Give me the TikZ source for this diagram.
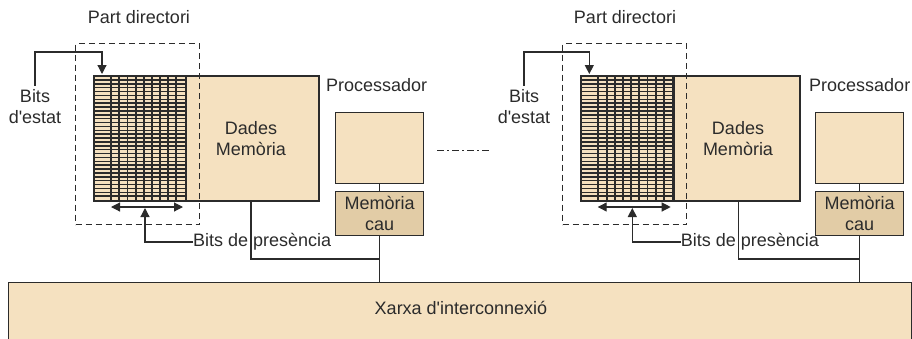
\documentclass[tikz,border=0pt]{standalone}
\usepackage{fontspec}
\setmainfont{Liberation Sans}[Ligatures=TeXOff]
\usetikzlibrary{arrows.meta}
\definecolor{tanfill}{HTML}{F5E1C0}
\definecolor{cachefill}{HTML}{E2CCA6}
\definecolor{ink}{HTML}{2B2B2B}
\tikzset{
  x=1pt, y=-1pt,
  lbl/.style={font=\fontsize{18}{21}\selectfont, text=ink, inner sep=0pt, align=center},
  box/.style={draw=ink, line width=1.3pt, fill=tanfill, inner sep=0pt, anchor=north west},
  cachebox/.style={box, fill=cachefill},
  dirbox/.style={draw=ink, line width=1.4pt, dash pattern=on 6pt off 4pt, inner sep=0pt, anchor=north west},
  conn/.style={draw=ink, line width=1.2pt},
  arr/.style={conn, -{Triangle[width=9pt,length=9pt]}},
  darr/.style={conn, {Triangle[width=9pt,length=9pt]}-{Triangle[width=9pt,length=9pt]}},
  gridh/.style={draw=ink, line width=1.5pt},
  gridv/.style={draw=ink, line width=1.8pt},
}
\begin{document}
\begin{tikzpicture}
\useasboundingbox (0,0) rectangle (912,338);
% network
\node[box, minimum width=903pt, minimum height=80pt] (net) at (8,282) {};
\node[lbl] (nettxt) at (461,308) {Xarxa d'interconnexió};

% dash-dot separator
\coordinate (sepA) at (437,150);
\coordinate (sepB) at (492,150);
\draw[conn, line width=1pt, dash pattern=on 7pt off 3pt on 2pt off 3pt] (sepA) -- (sepB);

% ---------- left module ----------
\node[box, minimum width=224.7pt, minimum height=124pt] (memL) at (93.3,76) {};
\node[box, minimum width=91.7pt, minimum height=124pt] (dirL) at (93.3,76) {};
\foreach \i in {1,...,31} \draw[gridh] (93.3,76+\i*3.875) -- (185,76+\i*3.875);
\foreach \x in {110.7,119.3,127.5,135.7,143.6,151.8,160,168.2,176.3} \draw[gridv] (\x,76) -- (\x,200);
\draw[ink, line width=1.3pt] (memL.north west) rectangle (memL.south east);
\draw[ink, line width=1.6pt] (dirL.north east) -- (dirL.south east);
\node[dirbox, minimum width=124pt, minimum height=181pt] (partL) at (75,43) {};
\node[lbl] (partLt) at (139,17) {Part directori};
\node[lbl] (datL) at (251,139) {Dades\\Memòria};
\node[lbl, anchor=west] (procLt) at (326,85) {Processador};
\node[box, minimum width=88pt, minimum height=71pt] (procL) at (335,112) {};
\node[cachebox, minimum width=88pt, minimum height=44pt] (cacheL) at (335,191) {};
\node[lbl] (cacheLt) at (cacheL.center) {Memòria\\cau};
\node[lbl] (estL) at (35,107) {Bits\\d'estat};
\coordinate (estL1) at (35,52);
\coordinate (estL2) at (102,52);
\coordinate (estL3) at (102,74);
\draw[arr] (estL.north) ++(0,-4) -- (estL1) -- (estL2) -- (estL3);
\coordinate (presLa) at (111,207);
\coordinate (presLb) at (183,207);
\draw[darr] (presLa) -- (presLb);
\node[lbl, anchor=west] (presL) at (193,242) {Bits de presència};
\coordinate (presLc) at (145,242);
\coordinate (presLd) at (145,208);
\draw[arr] (presL.west) -- (presLc) -- (presLd);
\coordinate (busL) at (251,259);
\draw[conn] (memL.south -| busL) -- (busL) -- (busL -| cacheL.south);
\draw[conn] (procL.south) -- (cacheL.north);
\draw[conn] (cacheL.south) -- (net.north -| cacheL.south);

% ---------- right module ----------
\node[box, minimum width=218.6pt, minimum height=124pt] (memR) at (580.7,76) {};
\node[box, minimum width=91.7pt, minimum height=124pt] (dirR) at (580.7,76) {};
\foreach \i in {1,...,31} \draw[gridh] (580.7,76+\i*3.875) -- (672.4,76+\i*3.875);
\foreach \x in {110.7,119.3,127.5,135.7,143.6,151.8,160,168.2,176.3} \draw[gridv] (\x+487.4,76) -- (\x+487.4,200);
\draw[ink, line width=1.3pt] (memR.north west) rectangle (memR.south east);
\draw[ink, line width=1.6pt] (dirR.north east) -- (dirR.south east);
\node[dirbox, minimum width=124pt, minimum height=181pt] (partR) at (562,43) {};
\node[lbl] (partRt) at (625,17) {Part directori};
\node[lbl] (datR) at (738,139) {Dades\\Memòria};
\node[lbl, anchor=west] (procRt) at (809,85) {Processador};
\node[box, minimum width=88pt, minimum height=71pt] (procR) at (815,112) {};
\node[cachebox, minimum width=88pt, minimum height=44pt] (cacheR) at (815,191) {};
\node[lbl] (cacheRt) at (cacheR.center) {Memòria\\cau};
\node[lbl] (estR) at (524,107) {Bits\\d'estat};
\coordinate (estR1) at (524,52);
\coordinate (estR2) at (589.3,52);
\coordinate (estR3) at (589.3,74);
\draw[arr] (estR.north) ++(0,-4) -- (estR1) -- (estR2) -- (estR3);
\coordinate (presRa) at (597.7,207);
\coordinate (presRb) at (670.7,207);
\draw[darr] (presRa) -- (presRb);
\node[lbl, anchor=west] (presR) at (680.7,242) {Bits de presència};
\coordinate (presRc) at (632.3,242);
\coordinate (presRd) at (632.3,208);
\draw[arr] (presR.west) -- (presRc) -- (presRd);
\coordinate (busR) at (738.3,259);
\draw[conn] (memR.south -| busR) -- (busR) -- (busR -| cacheR.south);
\draw[conn] (procR.south) -- (cacheR.north);
\draw[conn] (cacheR.south) -- (net.north -| cacheR.south);
\end{tikzpicture}
\end{document}
